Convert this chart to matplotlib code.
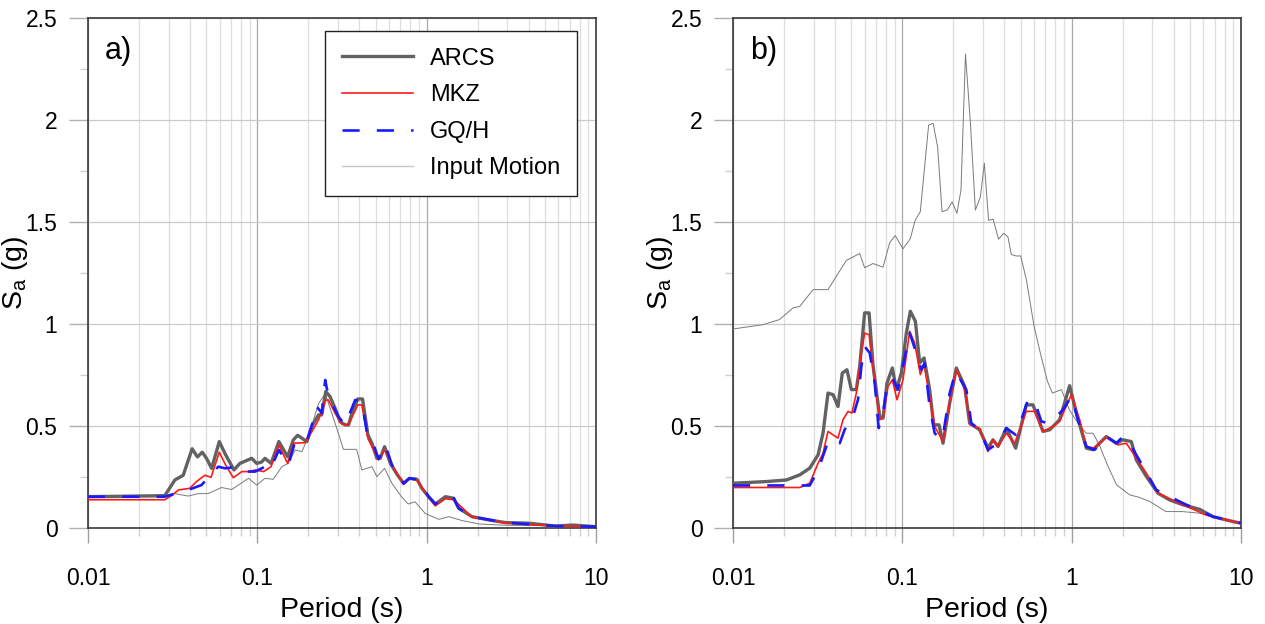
import numpy as np
import matplotlib
matplotlib.use("Agg")
import matplotlib.pyplot as plt
from matplotlib.ticker import LogLocator, FixedLocator, FuncFormatter

plt.rcParams['font.family'] = ['Liberation Sans', 'DejaVu Sans']

# ---- panel a) ----
a_arcs_T = [0.01, 0.0157, 0.0284, 0.0326, 0.0365, 0.0412, 0.0443, 0.0473, 0.0501, 0.0537,
            0.0596, 0.065, 0.0728, 0.0789, 0.0926, 0.0991, 0.106, 0.111, 0.1205, 0.134,
            0.151, 0.163, 0.173, 0.196, 0.2115, 0.23, 0.24, 0.2536, 0.269, 0.288,
            0.308, 0.33, 0.3455, 0.362, 0.392, 0.418, 0.45, 0.475, 0.508, 0.532,
            0.564, 0.61, 0.668, 0.731, 0.79, 0.877, 0.938, 1.027, 1.125, 1.29,
            1.445, 1.546, 1.854, 2.33, 2.92, 4.0, 5.77, 7.24, 10]
a_arcs_Sa = [0.155, 0.157, 0.16, 0.237, 0.26, 0.39, 0.35, 0.373, 0.343, 0.294,
             0.425, 0.36, 0.286, 0.318, 0.343, 0.318, 0.325, 0.343, 0.318, 0.425,
             0.351, 0.433, 0.456, 0.425, 0.506, 0.556, 0.556, 0.67, 0.645, 0.588,
             0.523, 0.507, 0.507, 0.564, 0.634, 0.634, 0.457, 0.417, 0.343, 0.343,
             0.4, 0.319, 0.265, 0.22, 0.245, 0.24, 0.196, 0.155, 0.119, 0.155,
             0.147, 0.098, 0.057, 0.041, 0.028, 0.025, 0.011, 0.016, 0.008]

a_mkz_T = [0.01, 0.0198, 0.0284, 0.0311, 0.0342, 0.0399, 0.0437, 0.049, 0.0533, 0.0596,
           0.065, 0.0721, 0.081, 0.0887, 0.0971, 0.109, 0.1205, 0.134, 0.151, 0.163,
           0.1915, 0.21, 0.2296, 0.2536, 0.263, 0.288, 0.316, 0.3455, 0.392, 0.414,
           0.45, 0.52, 0.564, 0.624, 0.731, 0.79, 0.877, 1.027, 1.125, 1.29,
           1.445, 1.854, 2.92, 5.77, 10]
a_mkz_Sa = [0.14, 0.14, 0.14, 0.16, 0.188, 0.196, 0.229, 0.26, 0.25, 0.373,
            0.31, 0.248, 0.278, 0.278, 0.286, 0.278, 0.302, 0.408, 0.318, 0.417,
            0.42, 0.474, 0.531, 0.629, 0.629, 0.564, 0.51, 0.507, 0.605, 0.605,
            0.44, 0.335, 0.385, 0.31, 0.215, 0.245, 0.235, 0.15, 0.11, 0.145,
            0.14, 0.055, 0.025, 0.012, 0.008]

a_gqh_T = [0.01, 0.0284, 0.039, 0.0468, 0.0588, 0.0644, 0.0773, 0.0848, 0.0971, 0.111,
           0.119, 0.134, 0.1525, 0.167, 0.1958, 0.2115, 0.2244, 0.2402, 0.2517, 0.263,
           0.3014, 0.33, 0.3782, 0.414, 0.444, 0.475, 0.52, 0.57, 0.624, 0.731,
           0.79, 0.877, 1.027, 1.125, 1.29, 1.445, 1.546, 1.854, 2.92, 5.77, 10]
a_gqh_Sa = [0.155, 0.155, 0.188, 0.212, 0.302, 0.294, 0.302, 0.278, 0.278, 0.302,
            0.286, 0.384, 0.31, 0.425, 0.425, 0.515, 0.596, 0.565, 0.727, 0.645,
            0.547, 0.507, 0.629, 0.62, 0.47, 0.433, 0.34, 0.408, 0.31, 0.22,
            0.245, 0.24, 0.155, 0.119, 0.155, 0.147, 0.098, 0.057, 0.028, 0.011, 0.008]

a_inp_T = [0.01, 0.0248, 0.0326, 0.039, 0.0448, 0.0512, 0.0615, 0.0705, 0.0887, 0.0991,
           0.111, 0.124, 0.1396, 0.1525, 0.167, 0.1834, 0.2003, 0.2296, 0.2517, 0.288,
           0.3225, 0.386, 0.414, 0.475, 0.508, 0.564, 0.624, 0.71, 0.778, 0.854,
           0.98, 1.18, 1.35, 1.62, 2.04, 2.92, 5.77, 10]
a_inp_Sa = [0.155, 0.155, 0.17, 0.158, 0.17, 0.17, 0.2, 0.19, 0.245, 0.212,
            0.245, 0.24, 0.302, 0.319, 0.384, 0.376, 0.45, 0.61, 0.66, 0.515,
            0.387, 0.387, 0.286, 0.302, 0.253, 0.294, 0.22, 0.155, 0.119, 0.13,
            0.073, 0.044, 0.057, 0.038, 0.021, 0.015, 0.012, 0.01]

# ---- panel b) ----
b_arcs_T = [0.01, 0.0157, 0.0207, 0.0248, 0.0284, 0.0318, 0.034, 0.0364, 0.039, 0.0417,
            0.0442, 0.0471, 0.05, 0.0535, 0.056, 0.0599, 0.0636, 0.0671, 0.0735, 0.0769,
            0.0812, 0.0873, 0.0922, 0.0987, 0.1056, 0.1115, 0.1194, 0.1266, 0.1343, 0.145,
            0.1531, 0.1647, 0.1739, 0.1904, 0.2084, 0.2334, 0.2498, 0.2861, 0.3205, 0.3431,
            0.3673, 0.4114, 0.467, 0.54, 0.591, 0.677, 0.7415, 0.849, 0.973, 1.066,
            1.221, 1.337, 1.602, 1.835, 2.01, 2.251, 2.409, 2.761, 3.234, 3.791,
            4.545, 5.701, 6.833, 8.97, 10]
b_arcs_Sa = [0.221, 0.229, 0.237, 0.262, 0.295, 0.36, 0.466, 0.663, 0.655, 0.597,
             0.761, 0.777, 0.68, 0.68, 0.794, 1.056, 1.056, 0.8, 0.548, 0.54,
             0.712, 0.786, 0.68, 0.761, 0.957, 1.064, 1.015, 0.81, 0.835, 0.68,
             0.507, 0.507, 0.417, 0.614, 0.786, 0.696, 0.515, 0.483, 0.393, 0.434,
             0.401, 0.49, 0.393, 0.605, 0.605, 0.475, 0.483, 0.532, 0.699, 0.565,
             0.393, 0.385, 0.45, 0.417, 0.434, 0.425, 0.335, 0.254, 0.172, 0.139,
             0.115, 0.093, 0.057, 0.033, 0.025]

b_mkz_T = [0.01, 0.0248, 0.0284, 0.0318, 0.034, 0.0364, 0.039, 0.0417, 0.0446, 0.0478,
           0.0504, 0.0535, 0.0573, 0.0599, 0.0636, 0.0687, 0.0735, 0.0769, 0.0823, 0.0873,
           0.093, 0.1009, 0.1105, 0.1183, 0.1277, 0.1343, 0.145, 0.1552, 0.1739, 0.1904,
           0.2084, 0.2334, 0.2521, 0.2861, 0.3205, 0.3431, 0.3673, 0.4114, 0.4608, 0.54,
           0.6046, 0.677, 0.7761, 0.849, 0.9954, 1.115, 1.221, 1.367, 1.602, 1.877,
           2.103, 2.409, 2.761, 3.234, 4.545, 6.243, 10]
b_mkz_Sa = [0.2, 0.2, 0.221, 0.319, 0.368, 0.475, 0.458, 0.442, 0.532, 0.573,
            0.565, 0.663, 0.859, 0.957, 0.949, 0.712, 0.532, 0.54, 0.696, 0.728,
            0.63, 0.728, 0.966, 0.908, 0.753, 0.802, 0.646, 0.5, 0.425, 0.622,
            0.777, 0.679, 0.507, 0.49, 0.376, 0.434, 0.401, 0.466, 0.417, 0.573,
            0.573, 0.475, 0.499, 0.524, 0.655, 0.532, 0.401, 0.393, 0.447, 0.409,
            0.417, 0.344, 0.27, 0.172, 0.115, 0.065, 0.025]

b_gqh_T = [0.01, 0.0284, 0.0318, 0.0356, 0.039, 0.0427, 0.0456, 0.0511, 0.0547, 0.0573,
           0.0599, 0.0642, 0.0687, 0.0725, 0.0769, 0.0812, 0.0873, 0.0943, 0.1009, 0.1105,
           0.121, 0.1295, 0.1355, 0.145, 0.1552, 0.1723, 0.1904, 0.2065, 0.2388, 0.2556,
           0.2861, 0.3205, 0.3673, 0.4114, 0.467, 0.5044, 0.5523, 0.6046, 0.6621, 0.7248,
           0.7934, 0.8889, 0.9954, 1.09, 1.221, 1.367, 1.602, 1.835, 2.01, 2.2,
           2.638, 3.162, 4.545, 6.833, 10]
b_gqh_Sa = [0.21, 0.21, 0.286, 0.401, 0.44, 0.417, 0.483, 0.548, 0.63, 0.794,
            0.892, 0.859, 0.712, 0.491, 0.565, 0.696, 0.737, 0.68, 0.794, 0.957,
            0.859, 0.777, 0.81, 0.597, 0.466, 0.434, 0.663, 0.769, 0.679, 0.515,
            0.483, 0.385, 0.417, 0.491, 0.458, 0.532, 0.63, 0.622, 0.524, 0.515,
            0.54, 0.581, 0.647, 0.532, 0.401, 0.385, 0.45, 0.417, 0.45, 0.417,
            0.303, 0.188, 0.123, 0.057, 0.025]

b_inp_T = [0.01, 0.015, 0.0188, 0.0226, 0.0248, 0.0297, 0.0364, 0.0408, 0.0467, 0.056,
           0.0599, 0.0671, 0.0769, 0.0842, 0.0908, 0.1009, 0.1115, 0.119, 0.1277, 0.143,
           0.152, 0.1616, 0.1716, 0.184, 0.197, 0.21, 0.222, 0.236, 0.2524, 0.27,
           0.289, 0.305, 0.323, 0.344, 0.37, 0.396, 0.42, 0.44, 0.47, 0.5,
           0.54, 0.6, 0.66, 0.72, 0.77, 0.87, 0.97, 1.12, 1.22, 1.34,
           1.47, 1.61, 1.84, 2.2, 2.5, 2.9, 3.6, 4.5, 5.7, 7.2, 10]
b_inp_Sa = [0.977, 0.998, 1.023, 1.08, 1.088, 1.17, 1.17, 1.236, 1.313, 1.347,
            1.277, 1.298, 1.28, 1.4, 1.435, 1.37, 1.42, 1.51, 1.552, 1.977,
            1.985, 1.87, 1.552, 1.56, 1.6, 1.544, 1.658, 2.325, 1.985, 1.56,
            1.625, 1.79, 1.51, 1.515, 1.417, 1.446, 1.43, 1.342, 1.335, 1.335,
            1.219, 0.99, 0.843, 0.72, 0.663, 0.68, 0.58, 0.5, 0.466, 0.466,
            0.401, 0.319, 0.213, 0.164, 0.152, 0.131, 0.082, 0.082, 0.074, 0.049, 0.025]

panels = [
    ('a)', (a_arcs_T, a_arcs_Sa), (a_mkz_T, a_mkz_Sa), (a_gqh_T, a_gqh_Sa), (a_inp_T, a_inp_Sa)),
    ('b)', (b_arcs_T, b_arcs_Sa), (b_mkz_T, b_mkz_Sa), (b_gqh_T, b_gqh_Sa), (b_inp_T, b_inp_Sa)),
]

fig = plt.figure(figsize=(12.65, 6.24), dpi=100)
lefts = [88 / 1265, 733 / 1265]

for left, (tag, arcs, mkz, gqh, inp) in zip(lefts, panels):
    ax = fig.add_axes([left, 1 - 528.3 / 624, 508 / 1265, 510 / 624])

    ax.plot(inp[0], inp[1], color='#7a7a7a', lw=0.7, label='Input Motion', zorder=3)
    ax.plot(arcs[0], arcs[1], color='#626262', lw=2.4, label='ARCS', zorder=4)
    ax.plot(mkz[0], mkz[1], color='#ff1a1a', lw=1.2, label='MKZ', zorder=5)
    ax.plot(gqh[0], gqh[1], color='#1a1aff', lw=1.9, dashes=(6.5, 6.5), label='GQ/H', zorder=6)

    ax.set_xscale('log')
    ax.set_xlim(0.01, 10)
    ax.set_ylim(0, 2.5)

    ax.xaxis.set_major_locator(LogLocator(base=10, numticks=10))
    ax.xaxis.set_minor_locator(LogLocator(base=10, subs=np.arange(2, 10), numticks=20))
    ax.xaxis.set_major_formatter(FuncFormatter(lambda v, p: '%g' % v))
    ax.yaxis.set_major_locator(FixedLocator([0, 0.5, 1, 1.5, 2, 2.5]))
    ax.yaxis.set_minor_locator(FixedLocator([0.25, 0.75, 1.25, 1.75, 2.25]))
    ax.yaxis.set_major_formatter(FuncFormatter(lambda v, p: '%g' % v))

    ax.grid(which='major', axis='x', color='#a8a8a8', lw=0.9)
    ax.grid(which='minor', axis='x', color='#dedede', lw=0.9)
    ax.grid(which='major', axis='y', color='#cacaca', lw=0.9)
    ax.set_axisbelow(True)

    ax.tick_params(axis='x', which='major', length=11, width=1, color='#a0a0a0',
                   labelsize=16.5, pad=17)
    ax.tick_params(axis='x', which='minor', length=6, width=1, color='#d0d0d0')
    ax.tick_params(axis='y', which='major', length=14, width=1, color='#b0b0b0',
                   labelsize=16.5, pad=8)
    ax.tick_params(axis='y', which='minor', length=6, width=1, color='#d0d0d0')

    for s in ax.spines.values():
        s.set_color('#3a3a3a')
        s.set_linewidth(1.2)

    ax.set_xlabel('Period (s)', fontsize=20.5, labelpad=2)
    ax.xaxis.set_label_coords(0.5, -0.135)
    ax.set_ylabel(r'$\mathregular{S_a}$ (g)', fontsize=20.5)
    ax.yaxis.set_label_coords(-0.114, 0.5)
    ax.text(0.033, 0.935, tag, transform=ax.transAxes, fontsize=22, va='center')

    if tag == 'a)':
        h, l = ax.get_legend_handles_labels()
        order = [1, 2, 3, 0]
        leg = ax.legend([h[i] for i in order], [l[i] for i in order],
                        loc='upper right', bbox_to_anchor=(0.9627, 0.975),
                        borderaxespad=0, fontsize=17, handlelength=3.0,
                        handletextpad=0.75, labelspacing=0.62, borderpad=0.7,
                        fancybox=False, framealpha=1, edgecolor='#222222')
        leg.get_frame().set_linewidth(1.0)
        leg.legend_handles[3].set_color('#c8c8c8')
        leg.legend_handles[3].set_linewidth(1.0)

fig.savefig('out.png', dpi=100)
